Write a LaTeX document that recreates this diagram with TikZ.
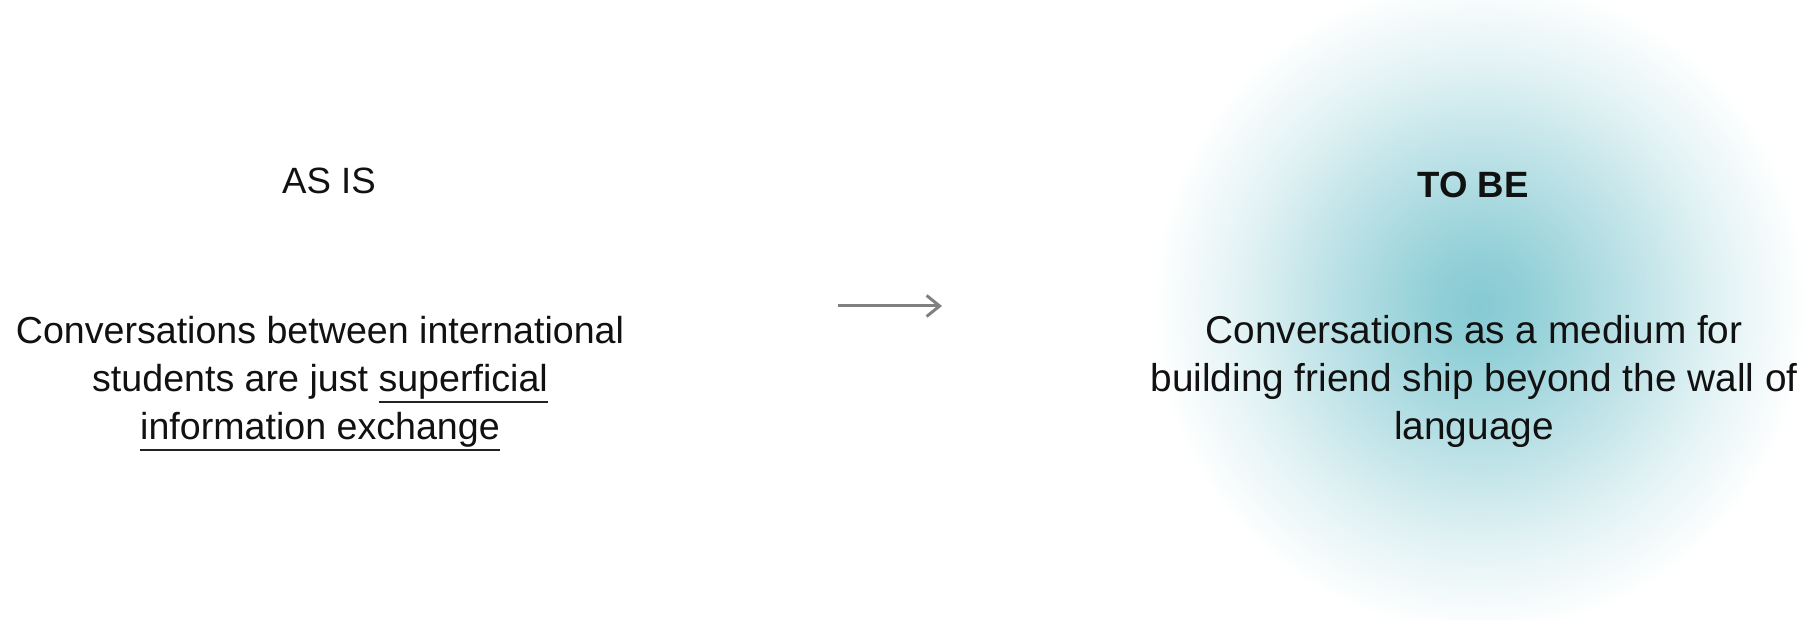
\documentclass[tikz,border=0pt]{standalone}
\usepackage{fontspec}
\setmainfont{Liberation Sans}
\usetikzlibrary{arrows.meta,positioning}
\definecolor{SlideInk}{HTML}{111111}
\definecolor{SlideRule}{HTML}{222222}
\definecolor{SlideArrow}{HTML}{808080}
\definecolor{GlowTeal}{HTML}{86CAD3}
\pgfdeclareradialshading{tealglow}{\pgfpoint{0bp}{0bp}}{%
  color(0bp)=(GlowTeal); color(3bp)=(GlowTeal!90!white);
  color(9bp)=(GlowTeal!58!white); color(15bp)=(GlowTeal!24!white);
  color(20.5bp)=(white); color(50bp)=(white)}
\newcommand{\slideline}[1]{\setbox0\hbox{#1}\rlap{\color{SlideRule}\rule[-5.5pt]{\wd0}{1pt}}\box0}
\tikzset{
  every node/.style={text=SlideInk, inner sep=0pt},
  heading/.style={font=\fontsize{18.3pt}{24pt}\selectfont, anchor=base},
  statement/.style={font=\fontsize{18.8pt}{24pt}\selectfont, align=center, anchor=base},
  shiftarrow/.style={-{Straight Barb[length=6.5pt,width=10.5pt]}, draw=SlideArrow, line width=1.5pt},
}
\begin{document}
\begin{tikzpicture}[x=0.5pt,y=0.5pt]
  % units are pixels of the slide, y measured upward
  \useasboundingbox (0,0) rectangle (1812,620);
  \begin{scope}
    \clip (0,0) rectangle (1812,620);
    \fill[shading=tealglow] (1480,315) circle (400);
    \draw[white, line width=3pt] (1480,315) circle (400);
  \end{scope}
  \node[heading] (asis) at (329,426) {AS IS};
  \node[heading, font=\fontsize{18.3pt}{24pt}\selectfont\bfseries] (tobe) at (1473,422) {TO BE};
  \node[statement] (asisbody) at (320,180) {Conversations between international\\
    students are just \slideline{superficial}\\ \slideline{information exchange}};
  \node[statement, font=\fontsize{19.4pt}{24pt}\selectfont] (tobebody) at (1474,180) {Conversations as a medium for\\
    building friend ship beyond the wall of\\ language};
  \coordinate (shiftstart) at (838,314);
  \coordinate (shiftend) at (942,314);
  \draw[shiftarrow] (shiftstart) -- (shiftend);
\end{tikzpicture}
\end{document}
